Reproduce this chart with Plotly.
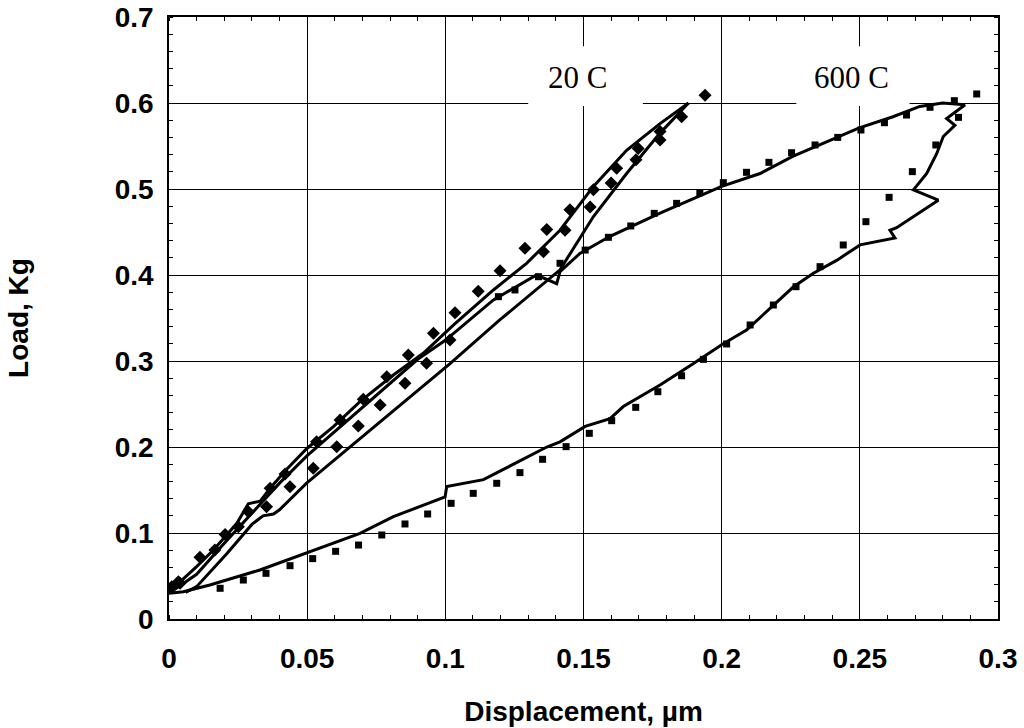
import plotly.graph_objects as go

# ---------------- data ----------------
# 20 C model curves
c20_up_x = [0.000, 0.0034, 0.010, 0.016, 0.0245, 0.0287, 0.0330, 0.0366, 0.0420, 0.0498,
            0.0595, 0.0691, 0.0812, 0.0920, 0.1030, 0.1174, 0.1294, 0.1415, 0.1536, 0.1656,
            0.1777, 0.1880]
c20_up_y = [0.030, 0.0415, 0.061, 0.080, 0.111, 0.134, 0.137, 0.152, 0.172, 0.198,
            0.2236, 0.2527, 0.2837, 0.309, 0.342, 0.3826, 0.4136, 0.452, 0.503, 0.545,
            0.576, 0.600]
c20_dn_x = [0.1880, 0.1777, 0.1656, 0.1536, 0.1415, 0.1198, 0.1017, 0.0498, 0.0400, 0.0378,
            0.0340, 0.0300, 0.0209, 0.0100, 0.0060]
c20_dn_y = [0.600, 0.565, 0.518, 0.468, 0.406, 0.348, 0.297, 0.158, 0.127, 0.122,
            0.120, 0.110, 0.076, 0.0376, 0.031]

# 600 C model curves
c600_up_x = [0.000, 0.010, 0.020, 0.030, 0.040, 0.050, 0.060, 0.070, 0.080, 0.090,
             0.100, 0.1174, 0.1330, 0.1403, 0.1415, 0.1487, 0.1596, 0.1777, 0.2000, 0.2139,
             0.2257, 0.2498, 0.2620, 0.2717, 0.2800, 0.2881]
c600_up_y = [0.030, 0.052, 0.088, 0.123, 0.158, 0.190, 0.218, 0.247, 0.275, 0.302,
             0.324, 0.371, 0.400, 0.390, 0.404, 0.425, 0.445, 0.472, 0.503, 0.518,
             0.538, 0.571, 0.584, 0.596, 0.600, 0.598]
c600_dn_x = [0.2881, 0.2814, 0.2844, 0.2802, 0.2778, 0.2742, 0.2694, 0.2784, 0.2633, 0.2609,
             0.2627, 0.2501, 0.2416, 0.2332, 0.2259, 0.2187, 0.2090, 0.2000, 0.1898, 0.1777,
             0.1644, 0.1596, 0.1506, 0.1415, 0.1367, 0.1138, 0.1005, 0.0999, 0.0812, 0.0691,
             0.0498, 0.0329, 0.0148, 0.0052, 0.000]
c600_dn_y = [0.598, 0.582, 0.574, 0.561, 0.541, 0.518, 0.499, 0.487, 0.455, 0.452,
             0.443, 0.435, 0.417, 0.402, 0.386, 0.365, 0.336, 0.319, 0.297, 0.272,
             0.247, 0.233, 0.224, 0.206, 0.200, 0.162, 0.154, 0.142, 0.119, 0.0996,
             0.0764, 0.057, 0.0395, 0.0318, 0.030]

# 20 C experimental points (diamonds)
e20a_x = [0.001, 0.0034, 0.0112, 0.0203, 0.0287, 0.0366, 0.0420, 0.0534, 0.0619, 0.0703,
          0.0788, 0.0866, 0.0957, 0.1035, 0.1119, 0.1198, 0.1288, 0.1367, 0.1451, 0.1536,
          0.1620, 0.1698, 0.1777, 0.1940]
e20a_y = [0.0376, 0.0434, 0.0717, 0.0984, 0.1248, 0.1519, 0.1686, 0.2060, 0.2314, 0.2554,
          0.2818, 0.3070, 0.3322, 0.356, 0.381, 0.405, 0.431, 0.453, 0.476, 0.499,
          0.524, 0.547, 0.567, 0.609]
e20b_x = [0.0040, 0.0166, 0.0251, 0.0353, 0.0438, 0.0522, 0.0607, 0.0685, 0.0764, 0.0854,
          0.0932, 0.1017, 0.1355, 0.1433, 0.1524, 0.1600, 0.1690, 0.1777, 0.1855]
e20b_y = [0.0415, 0.0802, 0.1074, 0.1306, 0.1539, 0.1752, 0.2004, 0.2244, 0.2488, 0.2740,
          0.2973, 0.3244, 0.427, 0.452, 0.479, 0.507, 0.534, 0.557, 0.584]

# 600 C experimental points (squares)
e600a_x = [0.1192, 0.1252, 0.1337, 0.1415, 0.1506, 0.1590, 0.1671, 0.1756, 0.1837, 0.1921,
           0.2006, 0.2090, 0.2171, 0.2253, 0.2338, 0.2420, 0.2504, 0.2589, 0.2669, 0.2754,
           0.2842]
e600a_y = [0.3748, 0.3826, 0.398, 0.4136, 0.429, 0.4438, 0.457, 0.4717, 0.4833, 0.4957,
           0.5074, 0.5194, 0.531, 0.5422, 0.5512, 0.560, 0.5686, 0.5771, 0.586, 0.595,
           0.6027]
e600b_x = [0.0185, 0.0269, 0.0351, 0.0438, 0.0520, 0.0603, 0.0686, 0.0770, 0.0854, 0.0936,
           0.1021, 0.1101, 0.1186, 0.1270, 0.1352, 0.1437, 0.1521, 0.1602, 0.1689, 0.1769,
           0.1855, 0.1934, 0.2018, 0.2103, 0.2187, 0.2269, 0.2356, 0.2440, 0.2522, 0.2606,
           0.2690, 0.2775, 0.2857, 0.2923]
e600b_y = [0.0357, 0.0453, 0.0531, 0.0620, 0.0702, 0.0787, 0.0860, 0.0977, 0.1105, 0.1221,
           0.1345, 0.1461, 0.1578, 0.1702, 0.1857, 0.2004, 0.2159, 0.2306, 0.2461, 0.2643,
           0.2829, 0.3019, 0.3198, 0.3419, 0.3651, 0.3864, 0.4097, 0.4349, 0.4620, 0.4903,
           0.5202, 0.5512, 0.5833, 0.6105]

x_ticks = [0, 0.05, 0.1, 0.15, 0.2, 0.25, 0.3]
x_tick_labels = ["0", "0.05", "0.1", "0.15", "0.2", "0.25", "0.3"]
y_ticks = [0, 0.1, 0.2, 0.3, 0.4, 0.5, 0.6, 0.7]
y_tick_labels = ["0", "0.1", "0.2", "0.3", "0.4", "0.5", "0.6", "0.7"]

labels = ["20 C", "600 C"]
label_x = [0.148, 0.247]
label_y = [0.630, 0.630]

# ---------------- figure ----------------
fig = go.Figure()

line_style = dict(color="black", width=3)
for xs, ys in [(c20_up_x, c20_up_y), (c20_dn_x, c20_dn_y),
               (c600_up_x, c600_up_y), (c600_dn_x, c600_dn_y)]:
    fig.add_trace(go.Scatter(x=xs, y=ys, mode="lines", line=line_style,
                             showlegend=False, hoverinfo="skip"))

for xs, ys in [(e20a_x, e20a_y), (e20b_x, e20b_y)]:
    fig.add_trace(go.Scatter(x=xs, y=ys, mode="markers",
                             marker=dict(symbol="diamond", size=10, color="black"),
                             showlegend=False))
for xs, ys in [(e600a_x, e600a_y), (e600b_x, e600b_y)]:
    fig.add_trace(go.Scatter(x=xs, y=ys, mode="markers",
                             marker=dict(symbol="square", size=7, color="black"),
                             showlegend=False))

# white boxes behind the labels, hiding gridlines
fig.add_shape(type="rect", xref="x", yref="y", x0=0.130, x1=0.1715, y0=0.5965, y1=0.666,
              fillcolor="white", line=dict(width=0), layer="between")
fig.add_shape(type="rect", xref="x", yref="y", x0=0.227, x1=0.268, y0=0.5965, y1=0.666,
              fillcolor="white", line=dict(width=0), layer="between")

for t, lx, ly in zip(labels, label_x, label_y):
    fig.add_annotation(x=lx, y=ly, xref="x", yref="y", text=t, showarrow=False,
                       font=dict(family="Liberation Serif", size=31, color="black"))

axis_font = dict(family="Liberation Sans", size=28, color="black", weight="bold")

fig.update_xaxes(range=[0, 0.3], tickvals=x_ticks, ticktext=x_tick_labels,
                 showgrid=True, gridcolor="black", gridwidth=1,
                 showline=True, linecolor="black", linewidth=1.5, mirror="allticks",
                 ticks="", tickfont=axis_font, ticklabelstandoff=14,
                 minor=dict(dtick=0.01, ticks="inside", ticklen=4, tickcolor="black",
                            tickwidth=1, showgrid=False),
                 title=dict(text="Displacement, µm", font=axis_font, standoff=28),
                 zeroline=False)
fig.update_yaxes(range=[0, 0.7], tickvals=y_ticks, ticktext=y_tick_labels,
                 showgrid=True, gridcolor="black", gridwidth=1,
                 showline=True, linecolor="black", linewidth=1.5, mirror="allticks",
                 ticks="", tickfont=axis_font, ticklabelstandoff=8,
                 minor=dict(dtick=0.02, ticks="inside", ticklen=4, tickcolor="black",
                            tickwidth=1, showgrid=False),
                 title=dict(text="Load, Kg", font=axis_font, standoff=78),
                 zeroline=False)

fig.update_layout(width=1024, height=728,
                  margin=dict(l=169, r=26, t=17, b=109, autoexpand=False),
                  paper_bgcolor="white", plot_bgcolor="white",
                  showlegend=False)

fig.write_html("out.html")
